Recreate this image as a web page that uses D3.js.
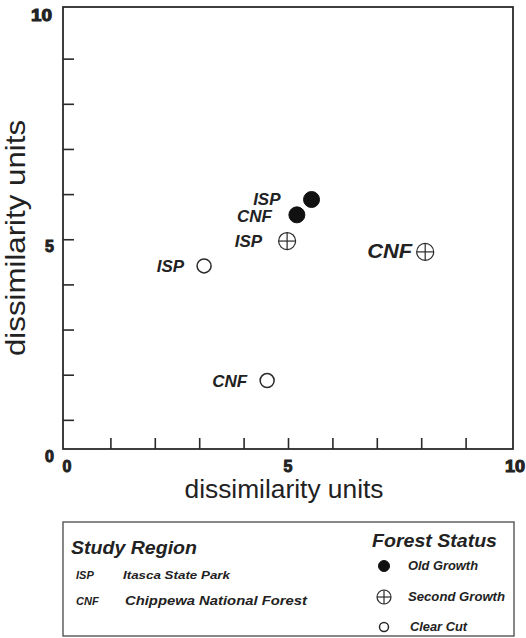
<!DOCTYPE html>
<html>
<head>
<meta charset="utf-8">
<script src="https://cdn.jsdelivr.net/npm/d3@7"></script>
<style>
  html, body { margin: 0; padding: 0; background: #ffffff; }
  svg { display: block; }
  text { font-family: "Liberation Sans", Arial, sans-serif; fill: #222; }
</style>
</head>
<body>
<svg id="chart" width="526" height="638"></svg>
<script>
// ---------------- data ----------------
const sites    = ["ISP", "CNF", "ISP", "CNF", "ISP", "CNF"];
const statuses = ["old", "old", "second", "second", "clear", "clear"];
const xValues  = [5.53, 5.20, 4.98, 8.09, 3.11, 4.53];
const yValues  = [5.88, 5.54, 4.96, 4.72, 4.41, 1.87];

const xTickValues = [1, 2, 3, 4, 5, 6, 7, 8, 9];
const yTickValues = [1, 2, 3, 4, 5, 6, 7, 8, 9];
const axisLabelValues = [0, 5, 10];
const axisTitle = "dissimilarity units";

const regionCodes = ["ISP", "CNF"];
const regionNames = ["Itasca State Park", "Chippewa National Forest"];
const statusKeys   = ["old", "second", "clear"];
const statusLabels = ["Old Growth", "Second Growth", "Clear Cut"];

// ---------------- layout ----------------
const svg = d3.select("#chart");
const frame = { left: 63, right: 513, top: 7, bottom: 449 };
const ink = "#2a2a2a";

const x = d3.scaleLinear().domain([0, 10]).range([66, 510]);
const y = d3.scaleLinear().domain([0, 10]).range([465, 13.5]);

// frame
svg.append("rect")
  .attr("x", frame.left).attr("y", frame.top)
  .attr("width", frame.right - frame.left)
  .attr("height", frame.bottom - frame.top)
  .attr("fill", "none").attr("stroke", ink).attr("stroke-width", 1.8);

// inward ticks via d3 axes
const xAxis = d3.axisTop(x).tickValues(xTickValues).tickSize(11).tickFormat("");
const gx = svg.append("g").attr("transform", `translate(0,${frame.bottom})`).call(xAxis);
gx.select(".domain").remove();
gx.selectAll("line").attr("stroke", ink).attr("stroke-width", 1.6);

const yAxis = d3.axisRight(y).tickValues(yTickValues).tickSize(11).tickFormat("");
const gy = svg.append("g").attr("transform", `translate(${frame.left},0)`).call(yAxis);
gy.select(".domain").remove();
gy.selectAll("line").attr("stroke", ink).attr("stroke-width", 1.6);

// tick labels
function boldLabel(sel) {
  return sel.style("font-size", "16px").style("font-weight", "bold")
    .attr("stroke", "#222").attr("stroke-width", 1);
}
boldLabel(svg.selectAll(".xlab").data(axisLabelValues).enter().append("text")
  .attr("class", "xlab")
  .attr("x", d => d === 0 ? x(d) + 1 : (d === 10 ? x(d) + 5 : x(d)))
  .attr("y", 472)
  .attr("text-anchor", "middle")
  .attr("textLength", d => d === 10 ? 20 : null)
  .attr("lengthAdjust", "spacingAndGlyphs")
  .text(d => d));

boldLabel(svg.selectAll(".ylab").data(axisLabelValues).enter().append("text")
  .attr("class", "ylab")
  .attr("x", d => d === 10 ? 52 : 54)
  .attr("y", d => d === 0 ? frame.bottom + 13 : y(d) + (d === 5 ? 13 : 7))
  .attr("text-anchor", "end")
  .attr("textLength", d => d === 10 ? 21 : null)
  .attr("lengthAdjust", "spacingAndGlyphs")
  .text(d => d));

// axis titles
svg.append("text")
  .attr("x", 284).attr("y", 498)
  .attr("text-anchor", "middle")
  .attr("textLength", 199).attr("lengthAdjust", "spacingAndGlyphs")
  .style("font-size", "25px")
  .text(axisTitle);

svg.append("text")
  .attr("transform", "translate(25,238) rotate(-90)")
  .attr("text-anchor", "middle")
  .attr("textLength", 236).attr("lengthAdjust", "spacingAndGlyphs")
  .style("font-size", "28px")
  .text(axisTitle);

// ---------------- symbols ----------------
const symbolR = { old: 8, second: 8.5, clear: 7 };
function drawSymbol(g, status, cx, cy, r) {
  if (status === "old") {
    g.append("circle").attr("cx", cx).attr("cy", cy).attr("r", r)
      .attr("fill", "#111").attr("stroke", "#111");
  } else if (status === "second") {
    g.append("circle").attr("cx", cx).attr("cy", cy).attr("r", r)
      .attr("fill", "none").attr("stroke", ink).attr("stroke-width", 1.2);
    g.append("line").attr("x1", cx - r).attr("x2", cx + r).attr("y1", cy).attr("y2", cy)
      .attr("stroke", ink).attr("stroke-width", 1.2);
    g.append("line").attr("x1", cx).attr("x2", cx).attr("y1", cy - r).attr("y2", cy + r)
      .attr("stroke", ink).attr("stroke-width", 1.2);
  } else {
    g.append("circle").attr("cx", cx).attr("cy", cy).attr("r", r)
      .attr("fill", "none").attr("stroke", ink).attr("stroke-width", 1.5);
  }
}

const pts = svg.append("g");
const labelGap = [31, 25, 25, 13, 20, 20];
const labelDy  = [5, 7, 6, 6, 6, 6];
sites.forEach((s, i) => {
  const cx = x(xValues[i]), cy = y(yValues[i]);
  drawSymbol(pts, statuses[i], cx, cy, symbolR[statuses[i]]);
  pts.append("text")
    .attr("x", cx - labelGap[i]).attr("y", cy + labelDy[i])
    .attr("text-anchor", "end")
    .style("font-size", i === 3 ? "20px" : "17px")
    .attr("textLength", i === 3 ? 45 : null)
    .attr("lengthAdjust", "spacingAndGlyphs")
    .style("font-weight", "bold").style("font-style", "italic")
    .text(s);
});

// ---------------- legend ----------------
const leg = svg.append("g");
leg.append("rect")
  .attr("x", 63).attr("y", 522).attr("width", 451).attr("height", 114)
  .attr("fill", "none").attr("stroke", "#555").attr("stroke-width", 1.4);

leg.append("text").attr("x", 71).attr("y", 554)
  .attr("textLength", 126).attr("lengthAdjust", "spacingAndGlyphs")
  .style("font-size", "18px").style("font-weight", "bold").style("font-style", "italic")
  .text("Study Region");

const regionY = [579, 605];
const regionNameLen = [107, 182];
regionCodes.forEach((c, i) => {
  leg.append("text").attr("x", 76).attr("y", regionY[i])
    .style("font-size", "11px").style("font-weight", "bold").style("font-style", "italic")
    .text(c);
  leg.append("text").attr("x", i === 0 ? 123 : 125).attr("y", regionY[i])
    .attr("textLength", regionNameLen[i]).attr("lengthAdjust", "spacingAndGlyphs")
    .style("font-size", i === 0 ? "10.5px" : "13.5px").style("font-weight", "bold").style("font-style", "italic")
    .text(regionNames[i]);
});

leg.append("text").attr("x", 372).attr("y", 547)
  .attr("textLength", 125).attr("lengthAdjust", "spacingAndGlyphs")
  .style("font-size", "18px").style("font-weight", "bold").style("font-style", "italic")
  .text("Forest Status");

const statusY = [566, 597, 627];
const statusLen = [70, 97, 57];
const legR = { old: 5.5, second: 7, clear: 4.5 };
statusKeys.forEach((k, i) => {
  drawSymbol(leg, k, 384, statusY[i], legR[k]);
  leg.append("text").attr("x", i === 2 ? 410 : 408).attr("y", statusY[i] + 4)
    .attr("textLength", statusLen[i]).attr("lengthAdjust", "spacingAndGlyphs")
    .style("font-size", "12px").style("font-weight", "bold").style("font-style", "italic")
    .text(statusLabels[i]);
});
</script>
</body>
</html>
